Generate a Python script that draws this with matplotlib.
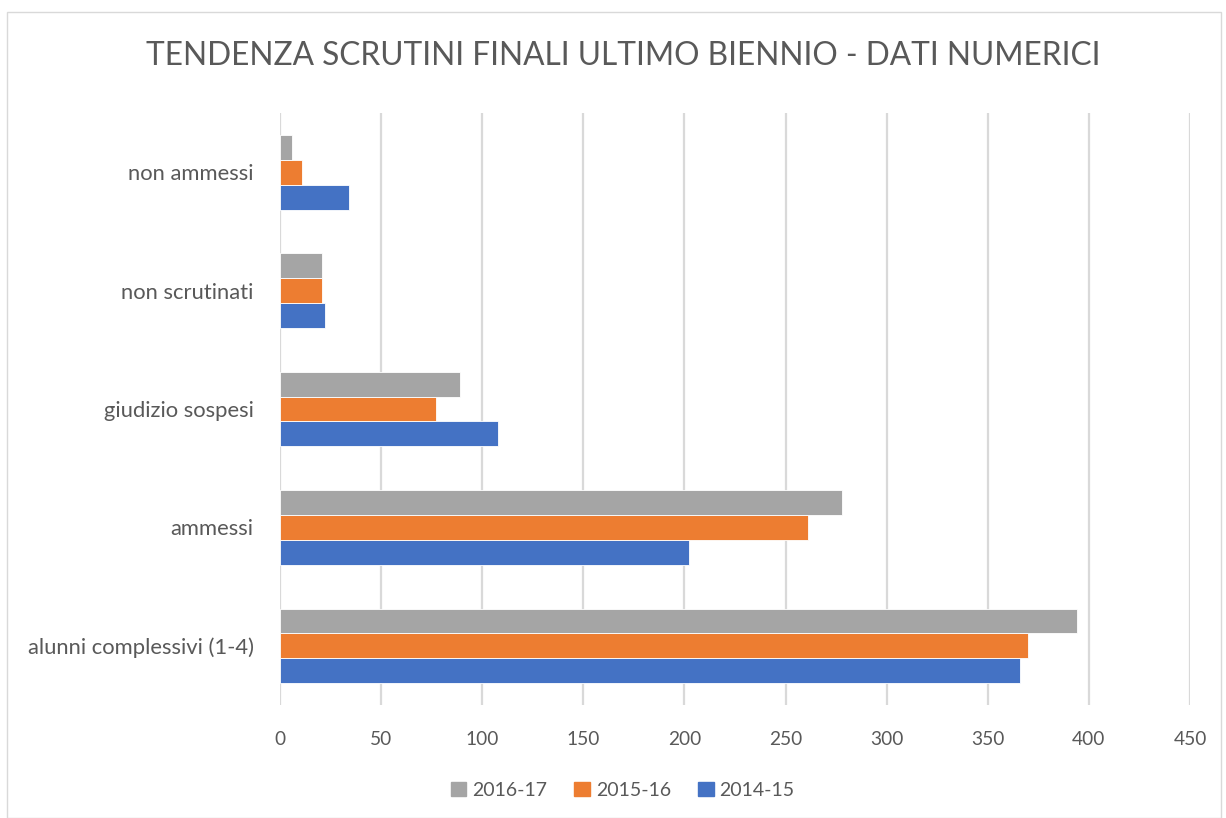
import matplotlib
matplotlib.use("Agg")
import matplotlib.pyplot as plt
from matplotlib.patches import Rectangle, Patch
import numpy as np

categories = ["alunni complessivi (1-4)", "ammessi", "giudizio sospesi", "non scrutinati", "non ammessi"]
series_names = ["2014-15", "2015-16", "2016-17"]
v_2014_15 = [366, 202, 108, 22, 34]
v_2015_16 = [370, 261, 77, 21, 11]
v_2016_17 = [394, 278, 89, 21, 6]
colors = ["#4472C4", "#ED7D31", "#A5A5A5"]
xticks = [0, 50, 100, 150, 200, 250, 300, 350, 400, 450]
title = "TENDENZA SCRUTINI FINALI ULTIMO BIENNIO - DATI NUMERICI"

plt.rcParams['font.family'] = ['Lato', 'DejaVu Sans']
txt = "#595959"

fig = plt.figure(figsize=(12.26, 8.18), dpi=100)
ax = fig.add_axes([0.2284, 0.1381, 0.7423, 0.7237])

y = np.arange(len(categories))
h = 0.21
for i, (vals, c) in enumerate(zip([v_2014_15, v_2015_16, v_2016_17], colors)):
    ax.barh(y + (i - 1) * h, vals, height=h, color=c, edgecolor="white", linewidth=0.6,
            label=series_names[i], zorder=3)

ax.set_xlim(0, 450)
ax.set_ylim(-0.5, len(categories) - 0.5)
ax.set_xticks(xticks)
ax.set_xticklabels([str(t) for t in xticks])
ax.set_yticks(y)
ax.set_yticklabels(categories)
ax.tick_params(axis='x', length=0, labelsize=13.8, colors=txt, pad=19)
ax.tick_params(axis='y', length=0, labelsize=15.8, colors=txt, pad=19)
ax.grid(axis='x', color="#D9D9D9", linewidth=1.6, zorder=0)
for s in ax.spines.values():
    s.set_visible(False)

fig.text(0.508, 0.931, title, ha='center', va='center', fontsize=22.8, color=txt)

handles = [Patch(color=colors[2], label=series_names[2]),
           Patch(color=colors[1], label=series_names[1]),
           Patch(color=colors[0], label=series_names[0])]
fig.legend(handles=handles, loc='center', bbox_to_anchor=(0.508, 0.034), ncol=3,
           frameon=False, fontsize=14, labelcolor=txt, handlelength=0.8,
           handleheight=0.8, handletextpad=0.3, columnspacing=1.4)

fig.patches.append(Rectangle((0.006, 0.0), 0.99, 0.985, transform=fig.transFigure,
                             fill=False, edgecolor="#D9D9D9", linewidth=1.0))

fig.savefig("out.png", dpi=100, facecolor="white")
